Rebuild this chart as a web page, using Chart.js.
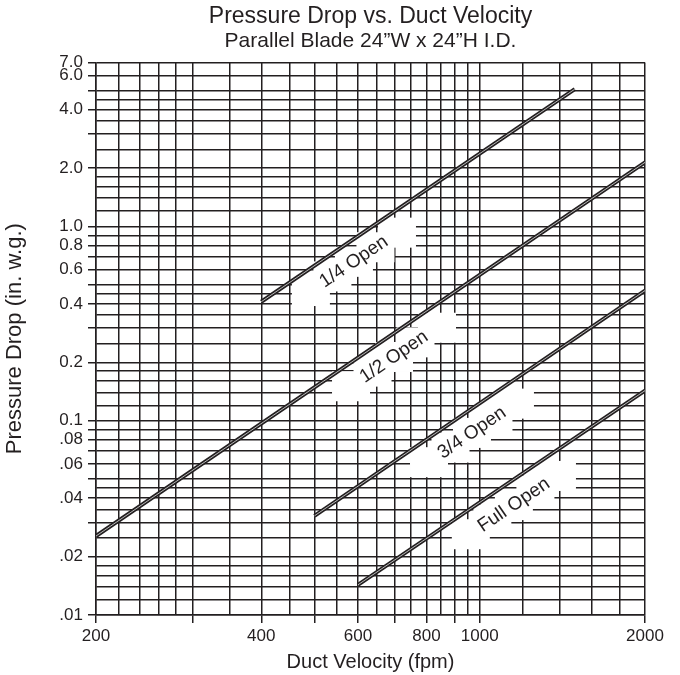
<!DOCTYPE html>
<html>
<head>
<meta charset="utf-8">
<script src="https://cdn.jsdelivr.net/npm/chart.js@4.4.0/dist/chart.umd.min.js"></script>
<style>
html, body { margin: 0; padding: 0; background: #fff; }
#wrap { width: 680px; height: 675px; }
</style>
</head>
<body>
<div id="wrap"><canvas id="pressure-chart"></canvas></div>
<script>
// velocity (fpm) / pressure drop (in. w.g.) end points
const vel_quarter = [400, 1490];
const drop_quarter = [0.41, 5.1];
const vel_half = [200, 2000];
const drop_half = [0.0255, 2.14];
const vel_three_quarter = [500, 2000];
const drop_three_quarter = [0.0324, 0.468];
const vel_full = [600, 2000];
const drop_full = [0.0143, 0.143];

const series_names = ['1/4 Open', '1/2 Open', '3/4 Open', 'Full Open'];

// where each curve name sits (fpm, in. w.g.)
const name_vel = [590, 698, 968, 1154];
const name_drop = [0.658, 0.213, 0.0866, 0.0368];

// grid lines, tick marks and tick labels
const grid_x = [200, 220, 240, 260, 280, 300, 350, 400, 450, 500, 550, 600, 650, 700, 750, 800, 850, 900, 950, 1000, 1200, 1400, 1600, 1800, 2000];
const marks_x = [200, 300, 400, 500, 600, 700, 800, 900, 1000, 2000];
const label_vals_x = [200, 400, 600, 800, 1000, 2000];
const label_text_x = ['200', '400', '600', '800', '1000', '2000'];

const grid_y = [0.01, 0.012, 0.014, 0.016, 0.018, 0.02, 0.025, 0.03, 0.035, 0.04, 0.045, 0.05, 0.06, 0.07, 0.08, 0.09,
    0.1, 0.12, 0.14, 0.16, 0.18, 0.2, 0.25, 0.3, 0.35, 0.4, 0.45, 0.5, 0.6, 0.7, 0.8, 0.9,
    1, 1.2, 1.4, 1.6, 1.8, 2, 2.5, 3, 3.5, 4, 4.5, 5, 6, 7];
const marks_y = [0.01, 0.02, 0.03, 0.04, 0.05, 0.06, 0.07, 0.08, 0.09, 0.1, 0.2, 0.3, 0.4, 0.5, 0.6, 0.7, 0.8, 0.9, 1, 2, 3, 4, 5, 6, 7];
const label_vals_y = [0.01, 0.02, 0.04, 0.06, 0.08, 0.1, 0.2, 0.4, 0.6, 0.8, 1, 2, 4, 6, 7];
const label_text_y = ['.01', '.02', '.04', '.06', '.08', '0.1', '0.2', '0.4', '0.6', '0.8', '1.0', '2.0', '4.0', '6.0', '7.0'];

const INK = '#231f20';
const FONT = "'Liberation Sans', Arial, sans-serif";
Chart.defaults.font.family = FONT;
Chart.defaults.color = INK;

const same = (a, b) => Math.abs(a - b) < b * 1e-6;
const find_label = (v, vals, texts) => {
    const i = vals.findIndex(x => same(v, x));
    return i < 0 ? '' : texts[i];
};
const is_mark = (v, marks) => marks.some(m => same(v, m));
const to_points = (xs, ys) => xs.map((x, i) => ({x: x, y: ys[i]}));
const all_curves = () => [[vel_quarter, drop_quarter], [vel_half, drop_half], [vel_three_quarter, drop_three_quarter], [vel_full, drop_full]];

// white patches behind curve names, then the names themselves
const curve_names = {
    id: 'curve_names',
    afterLayout(chart) {
        const sx = chart.scales.x, sy = chart.scales.y;
        chart.$names = all_curves().map((c, i) => {
            const dx = sx.getPixelForValue(c[0][1]) - sx.getPixelForValue(c[0][0]);
            const dy = sy.getPixelForValue(c[1][1]) - sy.getPixelForValue(c[1][0]);
            return {
                text: series_names[i],
                px: sx.getPixelForValue(name_vel[i]),
                py: sy.getPixelForValue(name_drop[i]),
                rot: Math.atan2(dy, dx)
            };
        });
    },
    beforeDatasetsDraw(chart) {
        const {ctx, chartArea} = chart;
        ctx.save();
        ctx.beginPath();
        ctx.rect(chartArea.left, chartArea.top, chartArea.right - chartArea.left, chartArea.bottom - chartArea.top);
        ctx.clip();
        ctx.fillStyle = '#fff';
        chart.$names.forEach(n => {
            [-52, -26, 0, 26, 52].forEach(t => {
                const cx = n.px + t * Math.cos(n.rot);
                const cy = n.py + t * Math.sin(n.rot);
                ctx.fillRect(cx - 19, cy - 15, 38, 30);
            });
        });
        ctx.restore();
    },
    afterDatasetsDraw(chart) {
        const {ctx} = chart;
        chart.$names.forEach(n => {
            ctx.save();
            ctx.translate(n.px, n.py);
            ctx.rotate(n.rot);
            ctx.font = '19px ' + FONT;
            ctx.fillStyle = INK;
            ctx.textAlign = 'center';
            ctx.textBaseline = 'middle';
            ctx.fillText(n.text, 0, 0);
            ctx.restore();
        });
    }
};

const build_chart = (canvas) => {
    const datasets = [];
    all_curves().forEach((c, i) => {
        const pts = to_points(c[0], c[1]);
        datasets.push({label: series_names[i], data: pts, borderColor: INK, borderWidth: 4, pointRadius: 0, order: 1});
        datasets.push({label: series_names[i], data: pts, borderColor: '#b8b8b8', borderWidth: 1, pointRadius: 0, order: 0});
    });

    try {
        new Chart(canvas, {
            type: 'line',
            plugins: [curve_names],
            data: {datasets: datasets},
            options: {
                responsive: true,
                maintainAspectRatio: false,
                animation: false,
                layout: {padding: {top: 2, right: 35, bottom: 0, left: 0}},
                scales: {
                    x: {
                        type: 'logarithmic',
                        min: 200,
                        max: 2000,
                        afterBuildTicks: (scale) => { scale.ticks = grid_x.map(v => ({value: v})); },
                        afterFit: (scale) => { scale.height = 60; },
                        ticks: {
                            autoSkip: false,
                            maxRotation: 0,
                            padding: 3,
                            color: INK,
                            font: {size: 17},
                            callback: (v) => find_label(v, label_vals_x, label_text_x)
                        },
                        grid: {
                            color: INK,
                            lineWidth: 1.5,
                            tickLength: 8,
                            tickWidth: 1.5,
                            tickColor: (ctx) => is_mark(ctx.tick.value, marks_x) ? INK : 'rgba(0,0,0,0)'
                        },
                        border: {color: INK, width: 1.5},
                        title: {display: true, text: 'Duct Velocity (fpm)', color: INK, font: {size: 20}, padding: {top: 4, bottom: 1}}
                    },
                    y: {
                        type: 'logarithmic',
                        min: 0.01,
                        max: 7,
                        afterBuildTicks: (scale) => { scale.ticks = grid_y.map(v => ({value: v})); },
                        afterFit: (scale) => { scale.width = 96; },
                        ticks: {
                            autoSkip: false,
                            padding: 5,
                            color: INK,
                            font: {size: 17},
                            callback: (v) => find_label(v, label_vals_y, label_text_y)
                        },
                        grid: {
                            color: INK,
                            lineWidth: 1.5,
                            tickLength: 8,
                            tickWidth: 1.5,
                            tickColor: (ctx) => is_mark(ctx.tick.value, marks_y) ? INK : 'rgba(0,0,0,0)'
                        },
                        border: {color: INK, width: 1.5},
                        title: {display: true, text: 'Pressure Drop (in. w.g.)', color: INK, font: {size: 22}, padding: {top: 2, bottom: 0}}
                    }
                },
                plugins: {
                    legend: {display: false},
                    tooltip: {enabled: false},
                    title: {
                        display: true,
                        fullSize: false,
                        text: 'Pressure Drop vs. Duct Velocity',
                        color: INK,
                        font: {size: 23, weight: 'normal', lineHeight: 1.1},
                        padding: {top: 2, bottom: 0}
                    },
                    subtitle: {
                        display: true,
                        fullSize: false,
                        text: 'Parallel Blade 24\u201DW x 24\u201DH I.D.',
                        color: INK,
                        font: {size: 21, weight: 'normal', lineHeight: 1.1},
                        padding: {top: 0, bottom: 10}
                    }
                }
            }
        });
    } catch (err) {
        console.error('chart failed', err);
    }
};

document.addEventListener('DOMContentLoaded', function () {
    build_chart(document.getElementById('pressure-chart'));
});
</script>
</body>
</html>
